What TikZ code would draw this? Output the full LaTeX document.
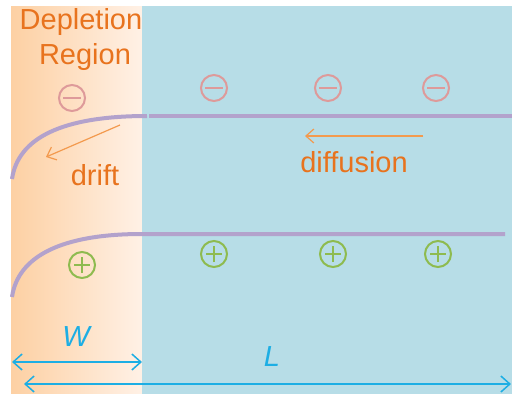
\documentclass[tikz,border=0pt]{standalone}
\usepackage{fontspec}
\setmainfont{Liberation Sans}
\usetikzlibrary{arrows.meta}
\definecolor{txtorange}{HTML}{E8731E}
\definecolor{arrorange}{HTML}{F39A4E}
\definecolor{minuspink}{HTML}{DE9A9A}
\definecolor{plusgreen}{HTML}{8EBB4F}
\definecolor{band}{HTML}{B3A2CC}
\definecolor{nblue}{HTML}{B7DDE7}
\definecolor{depl}{HTML}{FDD0A3}
\definecolor{deplr}{HTML}{FFF1E6}
\definecolor{cyanw}{HTML}{1DAEE4}
\tikzset{
  lbl/.style={text=txtorange, font=\fontsize{29}{33}\selectfont, inner sep=0pt},
  dim/.style={text=cyanw, font=\fontsize{29}{33}\selectfont\itshape, inner sep=0pt},
  minus/.style={circle, draw=minuspink, line width=2pt, minimum size=26pt, inner sep=0pt,
    path picture={\draw[minuspink, line width=2pt] ([xshift=-9pt]path picture bounding box.center) -- ([xshift=9pt]path picture bounding box.center);}},
  plus/.style={circle, draw=plusgreen, line width=2pt, minimum size=26pt, inner sep=0pt,
    path picture={\draw[plusgreen, line width=2pt] ([xshift=-8pt]path picture bounding box.center) -- ([xshift=8pt]path picture bounding box.center)
      ([yshift=-8pt]path picture bounding box.center) -- ([yshift=8pt]path picture bounding box.center);}},
  bandline/.style={band, line width=4pt},
  flow/.style={arrorange, line width=1.2pt, -{Straight Barb[length=8pt,width=14pt]}},
  dimarrow/.style={cyanw, line width=1.5pt, {Straight Barb[length=9pt,width=16pt]}-{Straight Barb[length=9pt,width=16pt]}}
}
\begin{document}
\begin{tikzpicture}[x=1pt,y=-1pt]
\useasboundingbox (0,0) rectangle (512,394);
\fill[white] (0,0) rectangle (512,394);
% regions
\shade[left color=depl, right color=deplr] (11,6) rectangle (142,394);
\fill[nblue] (142,6) rectangle (512,394);
% bands
\draw[bandline] (12,179) .. controls (18,138) and (62,116) .. (147,116);
\draw[bandline] (149,116) -- (512,116);
\draw[bandline] (12,297) .. controls (18,256) and (62,234) .. (142,234) -- (505,234);
% charges
\node[minus] (m0) at (72,98) {};
\node[minus] (m1) at (214,88) {};
\node[minus] (m2) at (328,88) {};
\node[minus] (m3) at (436,88) {};
\node[plus] (p0) at (82,265) {};
\node[plus] (p1) at (214,254) {};
\node[plus] (p2) at (333,254) {};
\node[plus] (p3) at (438,254) {};
% texts
\node[lbl] (dep1) at (81,22) {Depletion};
\node[lbl] (dep2) at (85,57) {Region};
\node[lbl] (drift) at (95,175) {drift};
\node[lbl] (diff) at (354,162) {diffusion};
% flow arrows
\coordinate (d0) at (120,125);
\coordinate (d1) at (46,157);
\draw[flow] (d0) -- (d1);
\coordinate (f0) at (423,136);
\coordinate (f1) at (305,136);
\draw[flow] (f0) -- (f1);
% dimensions
\coordinate (w0) at (12,362);
\coordinate (w1) at (142,362);
\draw[dimarrow] (w0) -- (w1);
\node[dim] (W) at (76,337) {W};
\coordinate (l0) at (24,384);
\coordinate (l1) at (511,384);
\draw[dimarrow] (l0) -- (l1);
\node[dim] (L) at (272,357) {L};
\end{tikzpicture}
\end{document}
